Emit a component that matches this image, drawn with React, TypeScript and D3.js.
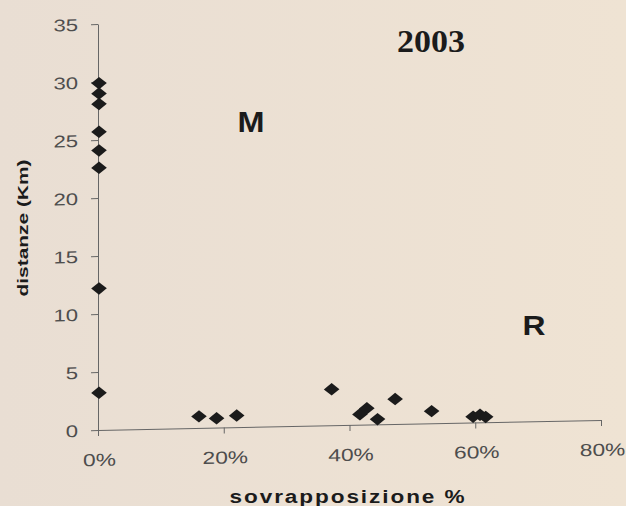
import React, { useEffect, useRef } from "react";
import * as d3 from "d3";

// Overlap (%) vs. distance (km), 2003
const overlapPct = [0, 0, 0, 0, 0, 0, 0, 0, 15.9, 18.7, 21.9, 37.0, 41.5, 42.6, 44.3, 47.1, 52.9, 59.5, 60.6, 61.5];
const distanceKm = [29.9, 29.0, 28.1, 25.7, 24.1, 22.6, 12.2, 3.2, 1.0, 0.8, 1.0, 3.1, 0.9, 1.4, 0.45, 2.15, 1.05, 0.5, 0.65, 0.45];

const yTicks = [0, 5, 10, 15, 20, 25, 30, 35];
const xTicks = [0, 20, 40, 60, 80];

const title = "2003";
const xTitle = "sovrapposizione %";
const yTitle = "distanze (Km)";
const zoneLabels = ["M", "R"];

const W = 626;
const H = 506;
const INK = "#1b1b1b";
const AXIS = "#666";

export default function App() {
  const ref = useRef<SVGSVGElement | null>(null);

  useEffect(() => {
    const svg = d3.select(ref.current);
    svg.selectAll("*").remove();

    const defs = svg.append("defs");
    const grad = defs
      .append("linearGradient")
      .attr("id", "paper")
      .attr("x1", 0)
      .attr("y1", 0)
      .attr("x2", 1)
      .attr("y2", 0);
    grad.append("stop").attr("offset", 0).attr("stop-color", "#e9ded3");
    grad.append("stop").attr("offset", 1).attr("stop-color", "#efe3d3");
    svg.append("rect").attr("width", W).attr("height", H).attr("fill", "url(#paper)");

    const x = d3.scaleLinear().domain([0, 80]).range([98, 601]);
    const y = d3.scaleLinear().domain([0, 35]).range([430, 24]);

    // slight tilt of the printed page
    const plot = svg
      .append("g")
      .attr("transform", "translate(98,430) skewY(-1.15) translate(-98,-430)");

    const yAxis = plot
      .append("g")
      .attr("transform", `translate(${x(0)},0)`)
      .call(
        d3.axisLeft(y).tickValues(yTicks).tickSize(7).tickSizeOuter(0).tickFormat(d3.format("d"))
      );
    const xAxis = plot
      .append("g")
      .attr("transform", `translate(0,${y(0)})`)
      .call(
        d3.axisBottom(x).tickValues(xTicks).tickSize(6).tickSizeOuter(0).tickFormat((d: any) => `${d}%`)
      );

    [yAxis, xAxis].forEach((g) => {
      g.select(".domain").attr("stroke", AXIS).attr("stroke-width", 1);
      g.selectAll(".tick line").attr("stroke", AXIS).attr("stroke-width", 1);
      g.selectAll(".tick text")
        .attr("fill", "#4d4d4d")
        .attr("font-family", "'Liberation Sans', Arial, sans-serif")
        .attr("font-size", 17);
    });

    yAxis
      .selectAll(".tick text")
      .attr("x", 0)
      .attr("dy", "0.36em")
      .attr("transform", "translate(-20,0) scale(1.3,1)");
    xAxis
      .selectAll(".tick text")
      .attr("y", 0)
      .attr("dy", 0)
      .attr("font-size", 17.5)
      .attr("transform", "translate(1,36) scale(1.3,1)");

    const pts = overlapPct.map((v, i) => ({ o: v, d: distanceKm[i] }));
    const diamond = d3.symbol().type(d3.symbolSquare).size(78);
    plot
      .append("g")
      .selectAll("path")
      .data(pts)
      .join("path")
      .attr("d", diamond)
      .attr("fill", INK)
      .attr("transform", (p) => `translate(${x(p.o) + 1},${y(p.d)}) scale(1.25,1) rotate(45)`);

    // titles and zone labels
    svg
      .append("text")
      .attr("x", 431)
      .attr("y", 52)
      .attr("text-anchor", "middle")
      .attr("font-family", "'Liberation Serif', 'Times New Roman', serif")
      .attr("font-weight", "bold")
      .attr("font-size", 32)
      .attr("textLength", 68)
      .attr("lengthAdjust", "spacingAndGlyphs")
      .attr("fill", INK)
      .text(title);

    svg
      .append("text")
      .attr("x", 251)
      .attr("y", 132)
      .attr("text-anchor", "middle")
      .attr("font-family", "'Liberation Sans', Arial, sans-serif")
      .attr("font-weight", "bold")
      .attr("font-size", 30)
      .attr("textLength", 27)
      .attr("lengthAdjust", "spacingAndGlyphs")
      .attr("fill", INK)
      .text(zoneLabels[0]);

    svg
      .append("text")
      .attr("x", 534)
      .attr("y", 335)
      .attr("text-anchor", "middle")
      .attr("font-family", "'Liberation Sans', Arial, sans-serif")
      .attr("font-weight", "bold")
      .attr("font-size", 28)
      .attr("textLength", 23)
      .attr("lengthAdjust", "spacingAndGlyphs")
      .attr("fill", INK)
      .text(zoneLabels[1]);

    svg
      .append("text")
      .attr("x", 348)
      .attr("y", 503)
      .attr("text-anchor", "middle")
      .attr("font-family", "'Liberation Sans', Arial, sans-serif")
      .attr("font-weight", "bold")
      .attr("font-size", 17.5)
      .attr("letter-spacing", 1.5)
      .attr("textLength", 237)
      .attr("lengthAdjust", "spacingAndGlyphs")
      .attr("fill", INK)
      .text(xTitle);

    svg
      .append("text")
      .attr("transform", "translate(28,228) rotate(-90)")
      .attr("text-anchor", "middle")
      .attr("font-family", "'Liberation Sans', Arial, sans-serif")
      .attr("font-weight", "bold")
      .attr("font-size", 15.5)
      .attr("textLength", 137)
      .attr("lengthAdjust", "spacingAndGlyphs")
      .attr("fill", INK)
      .text(yTitle);
  }, []);

  return (
    <svg
      ref={ref}
      width={W}
      height={H}
      style={{ position: "absolute", left: 0, top: 0, display: "block" }}
    />
  );
}
